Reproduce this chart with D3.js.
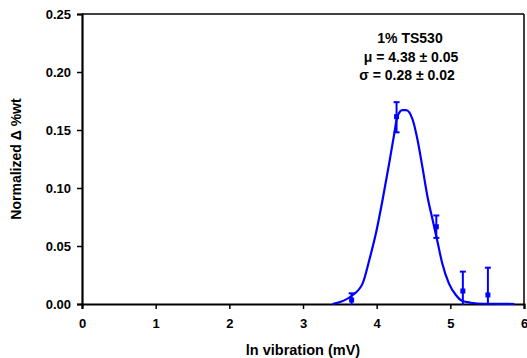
<!DOCTYPE html>
<html>
<head>
<meta charset="utf-8">
<script src="https://cdn.jsdelivr.net/npm/d3@7"></script>
<style>
  html, body { margin: 0; padding: 0; background: #fff; }
  svg { display: block; }
  text { font-family: "Liberation Sans", Arial, Helvetica, sans-serif; font-weight: bold; }
</style>
</head>
<body>
<svg id="chart" width="527" height="358"></svg>
<script>
// Data points (ln vibration, normalized Δ %wt) with error bars
const pointX = [3.66, 4.27, 4.81, 5.17, 5.51];
const pointY = [0.0034, 0.1615, 0.0666, 0.0112, 0.0078];
const errUp  = [0.0058, 0.0125, 0.0097, 0.0167, 0.0235];
const errDn  = [0.0058, 0.0135, 0.0096, 0.0167, 0.0235];

// Fitted curve
const curveX = [3.40, 3.657, 3.81, 3.90, 3.99, 4.08, 4.17, 4.24, 4.28, 4.35, 4.40, 4.49, 4.555, 4.62, 4.69, 4.76, 4.83, 4.89, 4.98, 5.075, 5.165, 5.28, 5.45, 5.87];
const curveY = [0.0, 0.0069, 0.0178, 0.0379, 0.0609, 0.0897, 0.1213, 0.1472, 0.1615, 0.1672, 0.1672, 0.1586, 0.1414, 0.1184, 0.0925, 0.0724, 0.0523, 0.0351, 0.0178, 0.0078, 0.0026, 0.0011, 0.0002, 0.0];

const xTicks = [0, 1, 2, 3, 4, 5, 6];
const yTicks = [0, 0.05, 0.10, 0.15, 0.20, 0.25];

const annotation = ["1% TS530", "\u03bc = 4.38 \u00b1 0.05", "\u03c3 = 0.28 \u00b1 0.02"];
const xTitle = "ln vibration (mV)";
const yTitle = "Normalized \u0394 %wt";

const margin = {left: 82, top: 14, right: 524, bottom: 304};
const svg = d3.select("#chart");
const x = d3.scaleLinear().domain([0, 6]).range([margin.left, margin.right]);
const y = d3.scaleLinear().domain([0, 0.25]).range([margin.bottom, margin.top]);
const blue = "#0000ff";

// frame top & right
svg.append("line").attr("x1", margin.left).attr("x2", margin.right)
  .attr("y1", margin.top).attr("y2", margin.top)
  .attr("stroke", "#000").attr("stroke-width", 1.5);
svg.append("line").attr("x1", margin.right).attr("x2", margin.right)
  .attr("y1", margin.top).attr("y2", margin.bottom)
  .attr("stroke", "#000").attr("stroke-width", 1.5);

// axes
const xAxis = svg.append("g").attr("transform", `translate(0,${margin.bottom})`)
  .call(d3.axisBottom(x).tickValues(xTicks).tickFormat(d3.format("d")).tickSizeOuter(0).tickSize(5).tickPadding(10));
const yAxis = svg.append("g").attr("transform", `translate(${margin.left},0)`)
  .call(d3.axisLeft(y).tickValues(yTicks).tickFormat(d3.format(".2f")).tickSizeOuter(0).tickSize(5).tickPadding(6));
[xAxis, yAxis].forEach(a => {
  a.select(".domain").attr("stroke", "#000").attr("stroke-width", 2.2);
  a.selectAll(".tick line").attr("stroke", "#000").attr("stroke-width", 1.5);
  a.selectAll(".tick text").attr("fill", "#000").style("font-size", "13px")
    .style("font-family", "'Liberation Sans', Arial, sans-serif").style("font-weight", "bold");
});

// clip to plot
svg.append("clipPath").attr("id", "clip").append("rect")
  .attr("x", margin.left).attr("y", margin.top)
  .attr("width", margin.right - margin.left).attr("height", margin.bottom - margin.top + 1);

const plot = svg.append("g").attr("clip-path", "url(#clip)");

// fitted curve
const curveData = curveX.map((v, i) => [v, curveY[i]]);
plot.append("path").datum(curveData)
  .attr("fill", "none").attr("stroke", blue).attr("stroke-width", 2.2)
  .attr("d", d3.line().x(d => x(d[0])).y(d => y(d[1])).curve(d3.curveMonotoneX));

// error bars
const pts = pointX.map((v, i) => ({x: v, y: pointY[i], up: errUp[i], dn: errDn[i]}));
const eb = plot.selectAll(".eb").data(pts).enter().append("g");
eb.append("line").attr("x1", d => x(d.x)).attr("x2", d => x(d.x))
  .attr("y1", d => y(d.y + d.up)).attr("y2", d => y(d.y - d.dn))
  .attr("stroke", blue).attr("stroke-width", 2);
eb.append("line").attr("x1", d => x(d.x) - 3).attr("x2", d => x(d.x) + 3)
  .attr("y1", d => y(d.y + d.up)).attr("y2", d => y(d.y + d.up))
  .attr("stroke", blue).attr("stroke-width", 2);
eb.append("line").attr("x1", d => x(d.x) - 3).attr("x2", d => x(d.x) + 3)
  .attr("y1", d => y(d.y - d.dn)).attr("y2", d => y(d.y - d.dn))
  .attr("stroke", blue).attr("stroke-width", 2);
eb.append("rect").attr("x", d => x(d.x) - 2.5).attr("y", d => y(d.y) - 2.5)
  .attr("width", 5).attr("height", 5).attr("fill", blue);

// annotation
const ann = svg.append("text").attr("text-anchor", "middle").attr("fill", "#000").style("font-size", "14px");
const annX = [410, 411, 407];
const annY = [43, 62, 80];
annotation.forEach((t, i) => {
  ann.append("tspan").attr("x", annX[i]).attr("y", annY[i]).text(t);
});

// axis titles
svg.append("text").attr("x", (margin.left + margin.right) / 2).attr("y", 355)
  .attr("text-anchor", "middle").attr("fill", "#000").style("font-size", "14.5px").text(xTitle);
svg.append("text").attr("transform", `translate(21,${(margin.top + margin.bottom) / 2}) rotate(-90)`)
  .attr("text-anchor", "middle").attr("fill", "#000").style("font-size", "14px").text(yTitle);
</script>
</body>
</html>
